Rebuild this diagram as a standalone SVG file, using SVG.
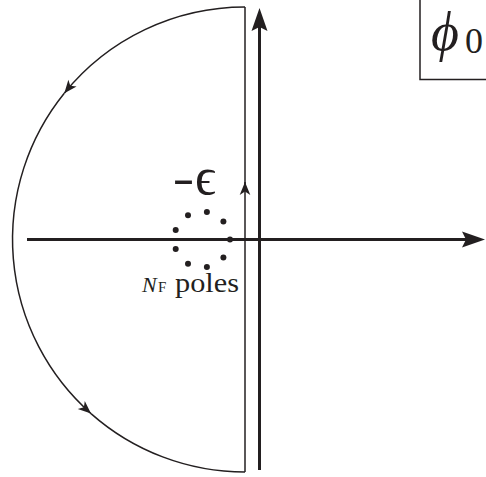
<svg xmlns="http://www.w3.org/2000/svg" width="486" height="477" viewBox="0 0 486 477">
  <style>
    .thin { fill: none; stroke: #231f20; stroke-width: 1.5; }
    .axis { fill: none; stroke: #231f20; stroke-width: 3; }
    .dot { fill: #231f20; }
    .ink { fill: #231f20; }
  </style>
  <defs>
    <marker id="small" viewBox="-14 -7 15 14" markerWidth="15" markerHeight="14" refX="0" refY="0" orient="auto" markerUnits="userSpaceOnUse">
      <path d="M0,0 L-13,-5.3 L-9.5,0 L-13,5.3 Z" fill="#231f20"/>
    </marker>
    <marker id="big" viewBox="-6 -9 26 18" markerWidth="26" markerHeight="18" refX="0" refY="0" orient="auto" markerUnits="userSpaceOnUse">
      <path d="M19,0 L-4,-8 L0,0 L-4,8 Z" fill="#231f20"/>
    </marker>
  </defs>
  <rect width="486" height="477" fill="#ffffff"/>

  <g id="connectors">
    <path id="real-axis" class="axis" d="M27,239.5 L466,239.5" marker-end="url(#big)"/>
    <path id="imag-axis" class="axis" d="M259.5,470 L259.5,27" marker-end="url(#big)"/>
    <path class="thin" d="M245,7 A232.5,232.5 0 0 0 64.3,93.2" marker-end="url(#small)"/>
    <path class="thin" d="M64.3,93.2 A232.5,232.5 0 0 0 91,413.6" marker-end="url(#small)"/>
    <path class="thin" d="M91,413.6 A232.5,232.5 0 0 0 245,472"/>
    <path class="thin" d="M245,472 L245,182" marker-end="url(#small)"/>
    <path class="thin" d="M245,184 L245,7"/>
  </g>

  <g id="poles">
    <circle class="dot" cx="230" cy="239.5" r="3"/>
    <circle class="dot" cx="223.4" cy="257.5" r="3"/>
    <circle class="dot" cx="206.9" cy="267.1" r="3"/>
    <circle class="dot" cx="188" cy="263.7" r="3"/>
    <circle class="dot" cx="175.7" cy="249.1" r="3"/>
    <circle class="dot" cx="175.7" cy="229.9" r="3"/>
    <circle class="dot" cx="188" cy="215.3" r="3"/>
    <circle class="dot" cx="206.9" cy="211.9" r="3"/>
    <circle class="dot" cx="223.4" cy="221.5" r="3"/>
  </g>

  <g id="label-epsilon" class="ink">
    <text x="172" y="194" font-family="Liberation Sans, sans-serif" font-size="44" textLength="23" lengthAdjust="spacingAndGlyphs">-</text>
    <text x="195" y="194" font-family="Liberation Serif, serif" font-size="52">ϵ</text>
  </g>

  <g id="label-poles" class="ink">
    <text x="142" y="292" font-family="Liberation Serif, serif" font-size="22" font-style="italic">N</text>
    <text x="158" y="292" font-family="Liberation Serif, serif" font-size="15">F</text>
    <text x="175" y="292" font-family="Liberation Serif, serif" font-size="27" textLength="64" lengthAdjust="spacingAndGlyphs">poles</text>
  </g>

  <g id="label-phi0" class="ink">
    <path class="thin" d="M420,0 L420,79.5 L486,79.5"/>
    <text x="431" y="50" font-family="Liberation Serif, serif" font-size="54" font-style="italic">ϕ</text>
    <text x="465" y="53" font-family="Liberation Serif, serif" font-size="36">0</text>
  </g>
</svg>
